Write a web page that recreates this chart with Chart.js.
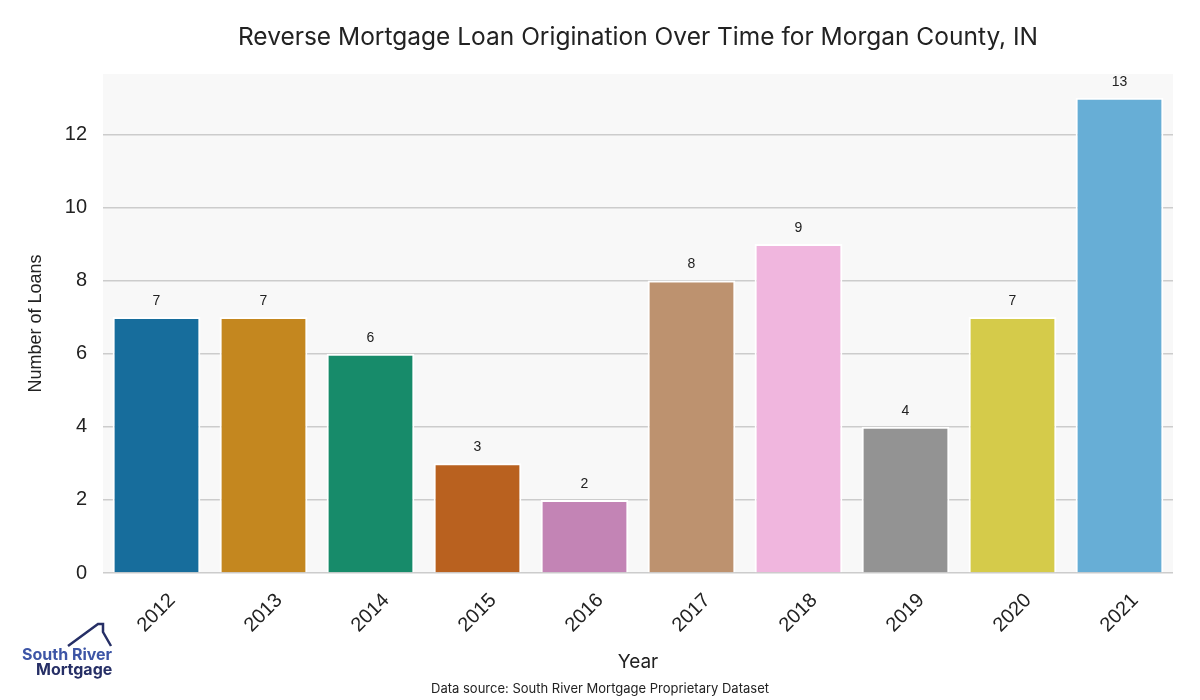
<!DOCTYPE html>
<html lang="en">
<head>
  <meta charset="UTF-8">
  <title>Reverse Mortgage Loan Origination Over Time for Morgan County, IN</title>
  <script src="https://cdn.jsdelivr.net/npm/chart.js"></script>
  <style>
    html, body { margin: 0; padding: 0; background: #fff; }
    #wrap { width: 1200px; height: 700px; }
  </style>
</head>
<body>
  <div id="wrap"><canvas id="loanChart" width="1200" height="700"></canvas></div>

  <script>
    // data
    const years = ['2012', '2013', '2014', '2015', '2016', '2017', '2018', '2019', '2020', '2021'];
    const loans = [7, 7, 6, 3, 2, 8, 9, 4, 7, 13];
    const barColors = ['#176d9c', '#c4871f', '#178b6a', '#b9611f', '#c384b5',
                       '#bd926f', '#f0b6de', '#939393', '#d5cb4a', '#67aed6'];
    const yTicks = [0, 2, 4, 6, 8, 10, 12];

    const titleText = 'Reverse Mortgage Loan Origination Over Time for Morgan County, IN';
    const sourceText = 'Data source: South River Mortgage Proprietary Dataset';
    const jakarta = 'Inter, "Noto Sans", sans-serif';
    const arial = '"Liberation Sans", Arial, sans-serif';

    // grey plot background, title, rotated year labels, footer and logo
    const decorPlugin = {
      id: 'decor',
      beforeDraw(chart) {
        const { ctx, chartArea: a } = chart;
        ctx.save();
        ctx.fillStyle = '#f8f8f8';
        ctx.fillRect(a.left, a.top, a.right - a.left, a.bottom - a.top);
        ctx.restore();
      },
      afterDraw(chart) {
        const { ctx, chartArea: a } = chart;
        const xs = chart.scales.x;
        const midX = (a.left + a.right) / 2;
        ctx.save();
        ctx.fillStyle = '#222';
        ctx.textAlign = 'center';
        ctx.textBaseline = 'middle';
        ctx.font = '24.5px ' + jakarta;
        ctx.fillText(titleText, midX, 38);

        // year labels, rotated 45deg about their centre
        ctx.font = '20px ' + arial;
        years.forEach((yr, i) => {
          ctx.save();
          ctx.translate(xs.getPixelForValue(i), a.bottom + 40);
          ctx.rotate(-Math.PI / 4);
          ctx.fillText(yr, 0, 0);
          ctx.restore();
        });

        ctx.font = '19px ' + jakarta;
        ctx.fillText('Year', midX, 662);

        ctx.font = '13px ' + jakarta;
        ctx.fillText(sourceText, 600, 689);

        // logo
        ctx.strokeStyle = '#262f66';
        ctx.lineWidth = 2.5;
        ctx.beginPath();
        ctx.moveTo(68, 646);
        ctx.lineTo(98, 624);
        ctx.lineTo(103, 624);
        ctx.lineTo(103, 632);
        ctx.lineTo(111, 646);
        ctx.stroke();
        ctx.textAlign = 'left';
        ctx.font = 'bold 16px ' + jakarta;
        ctx.fillStyle = '#3d55a6';
        ctx.fillText('South River', 22, 655);
        ctx.fillStyle = '#262f66';
        ctx.fillText('Mortgage', 36, 670);
        ctx.restore();
      }
    };

    // value labels above each bar
    const valueLabels = {
      id: 'valueLabels',
      afterDatasetsDraw(chart) {
        const { ctx } = chart;
        const meta = chart.getDatasetMeta(0);
        ctx.save();
        ctx.fillStyle = '#222';
        ctx.font = '14px ' + arial;
        ctx.textAlign = 'center';
        ctx.textBaseline = 'bottom';
        meta.data.forEach((bar, i) => {
          ctx.fillText(String(loans[i]), bar.x, bar.y - 9);
        });
        ctx.restore();
      }
    };

    const ctx = document.getElementById('loanChart').getContext('2d');
    new Chart(ctx, {
      type: 'bar',
      data: {
        labels: years,
        datasets: [{
          data: loans,
          backgroundColor: barColors,
          borderColor: '#ffffff',
          borderWidth: 2,
          borderSkipped: 'bottom',
          categoryPercentage: 1.0,
          barPercentage: 0.82
        }]
      },
      options: {
        responsive: false,
        animation: false,
        layout: { padding: { top: 74, right: 27, left: 25, bottom: 0 } },
        plugins: {
          legend: { display: false },
          tooltip: { enabled: false },
          title: { display: false }
        },
        scales: {
          x: {
            grid: { display: false },
            border: { display: false },
            ticks: { display: false },
            afterFit(scale) { scale.height = 127; }
          },
          y: {
            min: 0,
            max: 13.65,
            afterBuildTicks(scale) {
              scale.ticks = yTicks.map(v => ({ value: v }));
            },
            grid: {
              color: '#cccccc',
              lineWidth: 1.5,
              drawTicks: false
            },
            border: { display: false },
            ticks: {
              color: '#222',
              font: { family: arial, size: 20 },
              padding: 16
            },
            title: {
              display: true,
              text: 'Number of Loans',
              color: '#222',
              font: { family: arial, size: 18 },
              padding: { top: 0, bottom: 6 }
            },
            afterFit(scale) { scale.width = 78; }
          }
        }
      },
      plugins: [decorPlugin, valueLabels]
    });
  </script>
</body>
</html>
